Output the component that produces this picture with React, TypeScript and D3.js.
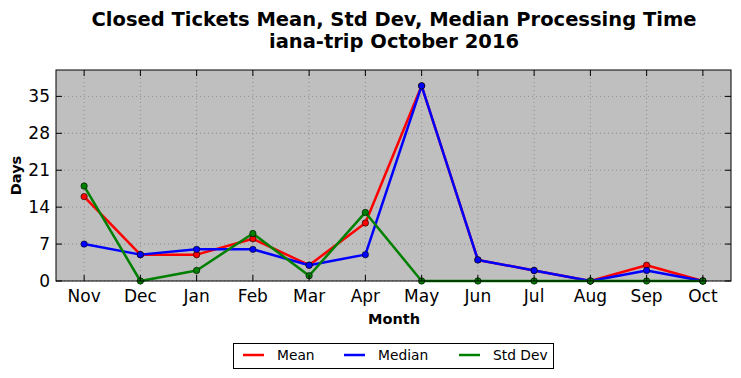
import React from "react";
import * as d3 from "d3";

const months = ["Nov", "Dec", "Jan", "Feb", "Mar", "Apr", "May", "Jun", "Jul", "Aug", "Sep", "Oct"];
const meanVals = [16, 5, 5, 8, 3, 11, 37, 4, 2, 0, 3, 0];
const medianVals = [7, 5, 6, 6, 3, 5, 37, 4, 2, 0, 2, 0];
const stdVals = [18, 0, 2, 9, 1, 13, 0, 0, 0, 0, 0, 0];
const yTicks = [0, 7, 14, 21, 28, 35];

const series = [
  { name: "Mean", color: "#ff0000", values: meanVals },
  { name: "Median", color: "#0000ff", values: medianVals },
  { name: "Std Dev", color: "#008000", values: stdVals },
];
const legendX = [243, 344, 459];

export default function App() {
  const W = 741, H = 378;
  const left = 56, right = 731, top = 70, bottom = 281;
  const x = d3.scaleLinear().domain([-0.5, months.length - 0.5]).range([left, right]);
  const y = d3.scaleLinear().domain([0, 40]).range([bottom, top]);
  const line = d3.line<number>().x((_, i) => x(i)).y((d) => y(d));
  const font = "DejaVu Sans, sans-serif";
  return (
    <svg width={W} height={H} style={{ position: "absolute", left: 0, top: 0 }} fontFamily={font}>
      <rect x={0} y={0} width={W} height={H} fill="#fff" />
      <text x={394} y={26} textAnchor="middle" fontSize={19.5} fontWeight="bold">Closed Tickets Mean, Std Dev, Median Processing Time</text>
      <text x={394} y={48} textAnchor="middle" fontSize={19.5} fontWeight="bold">iana-trip October 2016</text>
      <rect x={left} y={top} width={right - left} height={bottom - top} fill="#bfbfbf" />
      {months.map((m, i) => (
        <line key={"gx" + i} x1={x(i)} x2={x(i)} y1={top} y2={bottom} stroke="#808080" strokeWidth={0.8} strokeDasharray="1,3" />
      ))}
      {yTicks.map((t) => (
        <line key={"gy" + t} x1={left} x2={right} y1={y(t)} y2={y(t)} stroke="#808080" strokeWidth={0.8} strokeDasharray="1,3" />
      ))}
      {series.map((s) => (
        <path key={s.name} d={line(s.values) || ""} fill="none" stroke={s.color} strokeWidth={2.5} strokeLinejoin="round" />
      ))}
      {series.map((s) =>
        s.values.map((v, i) => (
          <circle key={s.name + i} cx={x(i)} cy={y(v)} r={3.2} fill={s.color} stroke="#000" strokeWidth={0.6} />
        ))
      )}
      {months.map((m, i) => (
        <g key={"tx" + i}>
          <line x1={x(i)} x2={x(i)} y1={bottom} y2={bottom - 6} stroke="#000" />
          <line x1={x(i)} x2={x(i)} y1={top} y2={top + 6} stroke="#000" />
          <text x={x(i)} y={bottom + 21} textAnchor="middle" fontSize={17}>{m}</text>
        </g>
      ))}
      {yTicks.map((t) => (
        <g key={"ty" + t}>
          <line x1={left} x2={left + 6} y1={y(t)} y2={y(t)} stroke="#000" />
          <line x1={right} x2={right - 6} y1={y(t)} y2={y(t)} stroke="#000" />
          <text x={left - 6} y={y(t) + 6} textAnchor="end" fontSize={17}>{t}</text>
        </g>
      ))}
      <rect x={left} y={top} width={right - left} height={bottom - top} fill="none" stroke="#000" strokeWidth={1} />
      <text x={394} y={324} textAnchor="middle" fontSize={14.5} fontWeight="bold">Month</text>
      <text transform={`translate(21,${(top + bottom) / 2}) rotate(-90)`} textAnchor="middle" fontSize={14.5} fontWeight="bold">Days</text>
      <rect x={233.5} y={343.5} width={320} height={25} fill="#fff" stroke="#000" strokeWidth={1} />
      {series.map((s, i) => (
        <g key={"lg" + s.name} transform={`translate(${legendX[i]},355)`}>
          <line x1={0} x2={21} y1={0} y2={0} stroke={s.color} strokeWidth={2.5} />
          <text x={34} y={5} fontSize={13.8}>{s.name}</text>
        </g>
      ))}
    </svg>
  );
}
